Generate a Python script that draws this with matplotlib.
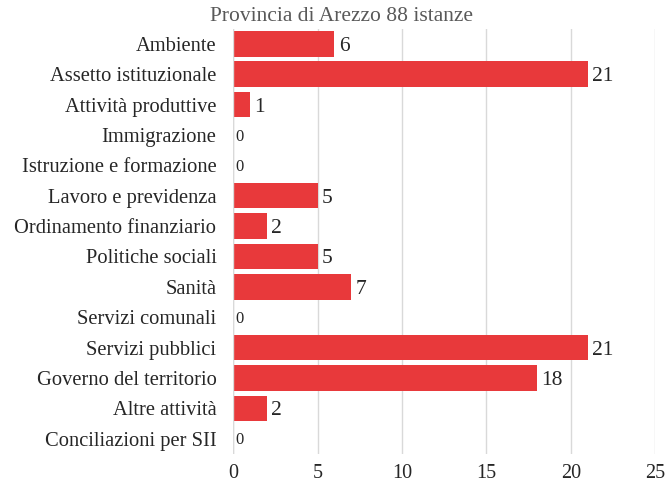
import matplotlib.pyplot as plt

categories = ['Ambiente', 'Assetto istituzionale', 'Attività produttive', 'Immigrazione',
              'Istruzione e formazione', 'Lavoro e previdenza', 'Ordinamento finanziario',
              'Politiche sociali', 'Sanità', 'Servizi comunali', 'Servizi pubblici',
              'Governo del territorio', 'Altre attività', 'Conciliazioni per SII']
values = [6, 21, 1, 0, 0, 5, 2, 5, 7, 0, 21, 18, 2, 0]
xticks = [0, 5, 10, 15, 20, 25]

plt.rcParams['font.family'] = ['Liberation Serif', 'DejaVu Serif']

fig = plt.figure(figsize=(6.68, 4.86), dpi=100)
ax = fig.add_axes([0.349, 0.066, 0.632, 0.875])

pos = list(range(len(categories)))
ax.barh(pos, values, height=0.84, color='#E8393B', zorder=3)

for y, v in zip(pos, values):
    if v > 0:
        ax.text(v + 0.25, y + 0.08, str(v), va='center', ha='left', fontsize=15.5, color='#262626')
    else:
        ax.text(0.15, y + 0.05, str(v), va='center', ha='left', fontsize=12, color='#262626')

ax.set_xlim(0, 25)
ax.set_ylim(len(categories) - 0.5, -0.5)
ax.set_xticks(xticks)
ax.set_yticks(pos)
ax.set_yticklabels(categories, fontsize=14.8, color='#262626')
ax.tick_params(axis='x', labelsize=14.5, colors='#262626', length=0, pad=7)
ax.tick_params(axis='y', length=0, pad=12)
ax.grid(axis='x', color='#D9D9D9', linewidth=1, zorder=0)
for s in ax.spines.values():
    s.set_visible(False)
ax.axvline(0, color='#D9D9D9', linewidth=1, zorder=4)

fig.text(0.511, 0.966, 'Provincia di Arezzo 88 istanze', ha='center', va='center',
         fontsize=15.5, color='#595959')

fig.savefig('out.png', dpi=100)
